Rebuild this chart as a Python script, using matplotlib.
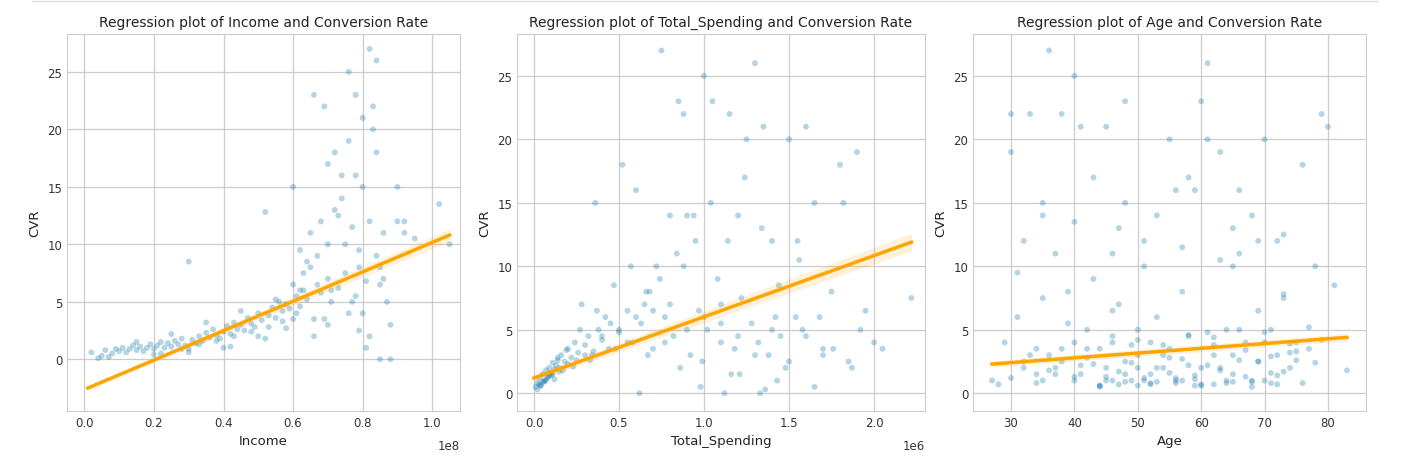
import matplotlib
matplotlib.use("Agg")
import matplotlib.pyplot as plt
import numpy as np

# Panel 1: Income (units of 1e8) vs CVR
inc_x = [0.02,0.04,0.05,0.06,0.07,0.08,0.09,0.10,0.11,0.12,0.13,0.14,0.15,0.16,0.17,0.18,0.19,0.20,0.21,0.22,0.23,0.24,0.25,0.26,0.27,0.28,0.29,0.30,0.31,0.32,0.33,0.34,0.35,0.36,0.37,0.38,0.39,0.40,0.41,0.42,0.43,0.44,0.45,0.46,0.47,0.48,0.49,0.50,0.51,0.52,0.53,0.54,0.55,0.56,0.57,0.58,0.59,0.60,0.61,0.62,0.63,0.64,0.65,0.66,0.67,0.68,0.69,0.70,0.71,0.72,0.73,0.74,0.75,0.76,0.77,0.78,0.79,0.80,0.81,0.82,0.83,0.84,0.85,0.86,0.88,0.90,0.92,0.95,1.02,1.05,
         0.15,0.2,0.25,0.3,0.35,0.4,0.45,0.5,0.55,0.6,0.62,0.65,0.68,0.7,0.72,0.75,0.78,0.8,0.82,0.84,0.3,0.42,0.52,0.58,0.64,0.66,0.7,0.74,0.76,0.79,0.81,0.83,0.85,0.6,0.66,0.7,0.78,0.82,0.86,0.88,
         0.22,0.28,0.33,0.38,0.43,0.48,0.53,0.57,0.61,0.63,0.67,0.71,0.73,0.77,0.8,0.84,0.87,0.9,0.76,0.85,0.92,0.62,0.69,0.79]
inc_y = [0.6,0.1,0.3,0.8,0.2,0.5,0.9,0.7,1.0,0.6,0.9,1.2,0.8,1.1,0.7,1.0,1.3,0.9,1.2,1.5,1.0,1.4,1.1,1.6,1.3,1.8,1.2,8.5,1.7,1.4,2.0,1.6,2.3,1.9,2.6,2.1,1.8,2.4,2.9,2.2,3.2,2.6,3.0,2.5,3.6,3.1,2.8,4.0,3.4,12.8,3.8,4.5,3.6,5.0,4.2,4.8,4.4,15.0,5.5,4.6,6.0,5.2,11.0,23.0,6.5,5.8,22.0,7.0,6.0,13.0,6.2,16.0,7.5,25.0,5.0,23.0,8.0,21.0,6.8,27.0,20.0,9.0,0.0,7.0,3.0,15.0,12.0,10.5,13.5,10.0,
         1.5,0.4,2.2,0.6,3.2,1.0,4.2,2.0,5.2,3.5,9.5,8.0,12.0,3.0,18.0,10.0,16.0,4.0,12.0,26.0,0.9,1.1,1.8,2.7,8.5,2.0,10.0,14.0,4.0,9.5,1.0,22.0,6.5,6.5,3.5,17.0,5.5,2.0,11.0,0.0,
         0.5,0.9,1.3,1.6,2.0,2.4,2.8,3.3,4.0,7.5,9.0,5.0,12.5,11.5,15.0,18.0,5.0,12.0,19.0,8.0,11.0,6.0,3.5,2.5]

# Panel 2: Total spending (units of 1e6) vs CVR
sp_x = [0.01,0.02,0.03,0.04,0.05,0.06,0.07,0.08,0.09,0.10,0.11,0.12,0.13,0.14,0.15,0.16,0.18,0.20,0.22,0.24,0.26,0.28,0.30,0.32,0.34,0.36,0.38,0.40,0.42,0.45,0.48,0.50,0.52,0.55,0.58,0.60,0.63,0.65,0.68,0.70,0.72,0.75,0.77,0.80,0.82,0.85,0.88,0.90,0.92,0.95,0.97,1.00,1.02,1.05,1.08,1.10,1.12,1.15,1.18,1.20,1.22,1.25,1.28,1.30,1.33,1.35,1.38,1.40,1.42,1.45,1.48,1.50,1.55,1.58,1.60,1.65,1.70,1.75,1.80,1.85,1.90,1.95,2.00,2.05,2.22,
        0.02,0.04,0.06,0.08,0.1,0.12,0.15,0.2,0.25,0.3,0.35,0.4,0.5,0.6,0.7,0.8,0.9,1.0,1.1,1.2,1.3,1.4,1.5,1.6,1.7,0.03,0.07,0.11,0.17,0.23,0.33,0.44,0.55,0.66,0.77,0.88,0.99,1.1,1.21,1.32,1.43,1.54,1.65,1.76,1.87,
        0.05,0.09,0.14,0.19,0.27,0.37,0.47,0.57,0.67,0.74,0.84,0.94,1.04,1.14,1.24,1.34,1.44,1.56,1.68,1.82,1.92,0.62,0.86,0.98,1.16,1.36]
sp_y = [0.5,0.8,1.2,0.6,1.5,1.0,1.8,1.3,2.0,1.6,2.4,1.9,2.2,2.8,2.0,3.0,2.5,3.5,2.8,4.0,3.2,7.0,3.8,4.5,3.0,15.0,5.0,4.2,6.0,5.5,3.5,4.8,18.0,6.5,4.0,16.0,5.5,7.0,8.0,3.5,10.0,27.0,6.0,14.0,4.5,23.0,22.0,14.0,3.0,12.0,6.5,25.0,5.0,23.0,9.0,4.0,0.0,22.0,3.5,14.0,7.5,20.0,5.5,26.0,0.0,21.0,3.0,12.0,6.0,4.5,2.0,20.0,12.0,5.0,21.0,15.0,3.5,8.0,18.0,2.5,19.0,6.5,4.0,3.5,7.5,
        0.3,0.6,0.9,1.2,1.4,1.1,1.7,2.3,2.6,3.0,3.3,4.5,5.0,6.0,6.5,7.0,5.0,6.0,5.5,4.5,3.0,5.0,2.5,4.5,3.0,0.7,1.0,1.5,1.8,2.1,2.6,3.5,4.0,8.0,4.0,10.0,2.5,7.0,1.5,4.0,1.0,6.0,0.5,3.5,2.0,
        0.9,1.4,2.6,3.4,5.0,6.5,8.5,10.0,3.0,9.0,11.0,14.0,15.0,12.0,17.0,13.0,8.5,10.5,6.0,15.0,5.0,0.0,2.0,0.5,1.5,0.3]

# Panel 3: Age vs CVR
age_x = [27,28,29,30,30,31,32,32,33,34,35,35,36,36,37,38,38,39,40,40,41,41,42,43,44,45,45,46,46,47,48,48,49,50,50,51,52,52,53,54,55,55,56,57,58,59,60,60,61,61,62,63,64,65,65,66,67,68,69,70,70,71,72,72,73,74,75,76,77,78,79,80,81,83,
         30,32,34,36,38,40,42,44,46,48,50,52,54,56,58,60,62,64,66,68,70,72,74,76,78,31,33,35,37,39,41,43,45,47,49,51,53,55,57,59,61,63,65,67,69,71,73,75,77,79,
         44,47,50,53,56,59,62,65,68,71,46,51,57,63,69,40,35,48,58,66,73,
         34,37,40,43,45,47,49,51,53,55,57,59,61,63,65,67,69,71,73,75,42,46,50,54,58,62,66,70,74,44,48,52,56,60,64,68,72]
age_y = [1.0,0.7,4.0,22.0,19.0,9.5,12.0,2.0,22.0,3.5,15.0,1.0,27.0,3.0,11.0,22.0,2.5,8.0,25.0,4.0,21.0,1.5,5.0,17.0,3.5,21.0,2.0,1.0,6.5,13.0,2.5,23.0,1.0,5.0,3.0,12.0,1.5,4.0,14.0,2.0,20.0,3.5,16.0,1.0,4.5,16.0,23.0,2.0,26.0,20.0,3.0,19.0,5.0,13.0,1.5,11.0,4.0,14.0,2.5,20.0,1.0,5.0,12.0,3.0,7.5,2.0,4.0,18.0,3.5,10.0,22.0,21.0,8.5,1.8,
         1.2,2.5,0.8,1.8,3.5,1.0,2.8,0.6,4.5,1.5,2.0,0.8,3.0,1.2,2.2,0.7,3.8,1.0,2.6,0.9,4.0,1.4,3.2,0.8,2.4,6.0,3.0,7.5,1.5,5.5,2.2,9.0,1.3,7.0,3.8,1.0,6.0,2.8,8.0,1.1,4.8,2.0,10.0,3.4,6.5,1.6,7.8,2.6,5.2,4.2,
         0.5,0.7,0.6,0.9,0.8,0.6,0.7,0.9,0.5,0.8,11.0,10.0,11.5,10.5,12.0,13.5,14.0,15.0,17.0,16.0,12.5,
         1.5,2.0,1.3,2.3,1.0,1.7,2.4,1.2,2.0,1.6,2.7,1.4,2.2,1.8,3.0,1.3,2.5,2.9,1.7,3.3,3.5,4.0,4.2,3.8,4.6,4.4,5.0,4.8,3.9,0.6,0.9,0.7,1.0,0.6,0.8,1.0,0.7]

# Regression lines and confidence bands
fits = [
    dict(x=[0.01, 1.05], y=[-2.5, 10.8], ci=[0.15, 0.55]),
    dict(x=[0.0, 2.22], y=[1.2, 11.9], ci=[0.25, 0.7]),
    dict(x=[27, 83], y=[2.3, 4.4], ci=[0.25, 0.3]),
]

titles = ["Regression plot of Income and Conversion Rate",
          "Regression plot of Total_Spending and Conversion Rate",
          "Regression plot of Age and Conversion Rate"]
xlabels = ["Income", "Total_Spending", "Age"]
offsets = ["1e8", "1e6", None]
xlims = [(-0.05, 1.08), (-0.1, 2.3), (24, 86)]
ylims = [(-4.5, 28.3), (-1.4, 28.3), (-1.4, 28.3)]
xticks = [[0.0,0.2,0.4,0.6,0.8,1.0],[0.0,0.5,1.0,1.5,2.0],[30,40,50,60,70,80]]
xtl = [["0.0","0.2","0.4","0.6","0.8","1.0"],["0.0","0.5","1.0","1.5","2.0"],["30","40","50","60","70","80"]]
yticks = [[0,5,10,15,20,25]]*3

fig = plt.figure(figsize=(14.05, 4.77), dpi=100)
fig.patch.set_facecolor("white")
fig.add_artist(plt.Line2D([0.023, 0.98], [0.996, 0.996], color="#dddddd", lw=1))
pos = [(67, 460), (517, 925), (973, 1366)]
data = [(inc_x, inc_y), (sp_x, sp_y), (age_x, age_y)]
blue = "#0b72a8"
for i in range(3):
    l, r = pos[i]
    ax = fig.add_axes([l/1405, 1-412/477, (r-l)/1405, (412-35)/477])
    ax.set_facecolor("white")
    ax.grid(True, color="#cccccc", lw=0.9)
    ax.set_axisbelow(True)
    for s in ax.spines.values():
        s.set_color("#cccccc")
    x, y = data[i]
    ax.scatter(x, y, s=18, color=blue, alpha=0.3, edgecolors="none")
    f = fits[i]
    fx = np.array(f["x"]); fy = np.array(f["y"]); ci = np.array(f["ci"])
    ax.fill_between(fx, fy-ci, fy+ci, color="orange", alpha=0.15, lw=0)
    ax.plot(fx, fy, color="orange", lw=2.5)
    ax.set_xlim(*xlims[i]); ax.set_ylim(*ylims[i])
    ax.set_xticks(xticks[i]); ax.set_xticklabels(xtl[i])
    ax.set_yticks(yticks[i])
    ax.tick_params(labelsize=8.5, colors="#333333", length=0)
    ax.set_title(titles[i], fontsize=10, color="#222222")
    ax.set_xlabel(xlabels[i], fontsize=9.5, color="#222222")
    ax.set_ylabel("CVR", fontsize=9.5, color="#222222")
    if offsets[i]:
        ax.text(1.0, -0.075, offsets[i], transform=ax.transAxes, ha="right", va="top", fontsize=8.5, color="#333333")
fig.savefig("out.png", dpi=100, facecolor="white")
